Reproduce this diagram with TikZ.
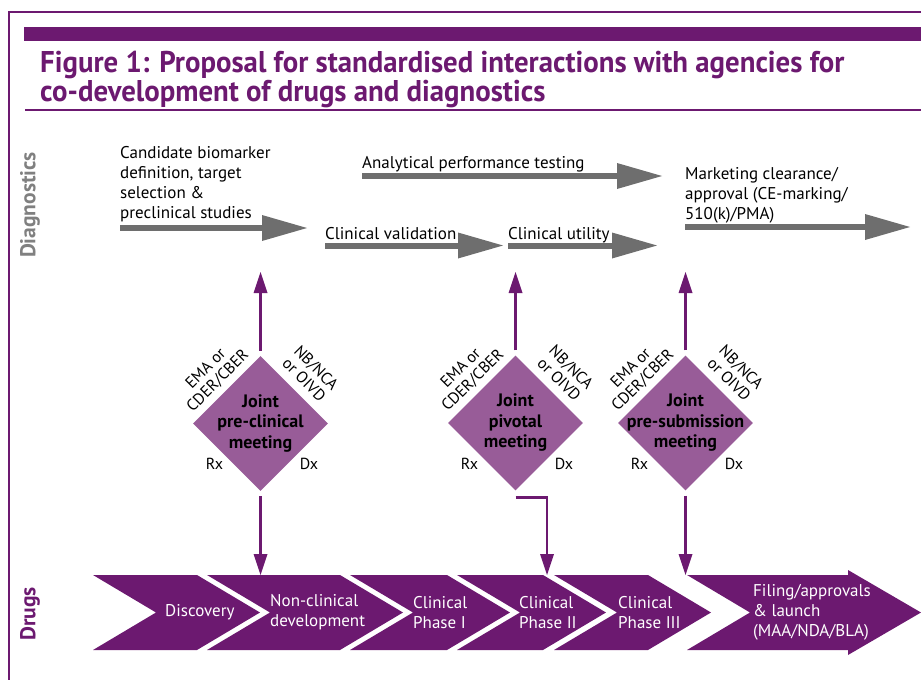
\documentclass[tikz,border=0pt]{standalone}
\usepackage{fontspec}
\setmainfont{PT Sans}
\newfontfamily\headfont[FakeStretch=0.96]{PT Sans}
\usetikzlibrary{arrows.meta,calc,shapes.geometric}
\definecolor{plum}{RGB}{108,25,112}
\definecolor{mauve}{RGB}{152,92,152}
\definecolor{slate}{RGB}{110,110,110}
\definecolor{lanegray}{RGB}{128,128,128}
\newcommand{\setfs}[2]{\fontsize{#1}{#2}\selectfont}
% one step of the drug pipeline: top-left x, top-right x
\newcommand{\chevron}[2]{%
  \fill[plum] (#1,575) -- (#2,575) -- ({#2+63},612.5) -- (#2,650)
    -- (#1,650) -- ({#1+63},612.5) -- cycle;}
\begin{document}
\begin{tikzpicture}[x=1pt,y=-1pt,
  fat/.style={draw=slate, line width=6pt,
    -{Triangle[length=45pt,width=26pt,line width=0pt]}},
  link/.style={draw=plum, line width=2.8pt,
    -{Triangle[length=21pt,width=14pt,line width=0pt]}},
  meet/.style={shape=diamond, fill=mauve, minimum width=135pt,
    minimum height=135pt, inner sep=0pt},
  meettxt/.style={font=\bfseries\setfs{18}{20.5}, align=center, text=black, inner sep=0pt},
  edgelab/.style={font=\setfs{16}{17}, align=center, inner sep=1pt},
  sidelab/.style={font=\setfs{16}{17}, inner sep=0pt},
  diagtxt/.style={font=\setfs{17}{20}, align=left, inner sep=0pt, anchor=base west},
  steptxt/.style={font=\setfs{17}{20}, align=left, inner sep=0pt, anchor=west, text=white},
  lanelab/.style={font=\bfseries\setfs{21.5}{22}, rotate=90, inner sep=0pt}
]
\path[use as bounding box] (0,0) rectangle (921,680);

% frame and heading
\draw[plum, line width=2pt] (9,680) -- (9,12) -- (921,12);
\fill[plum] (24,27) rectangle (921,41);
\draw[plum, line width=1.6pt] (25,110) -- (921,110);
\node[font=\headfont\bfseries\setfs{30}{27.5}, text=plum, align=left,
  anchor=base west, inner sep=0pt] (title) at (40,101)
  {Figure 1: Proposal for standardised interactions with agencies for\\co-development of drugs and diagnostics};

% lane labels
\node[lanelab, text=lanegray] (lanedx) at (30,205) {Diagnostics};
\node[lanelab, text=plum] (lanerx) at (30,614) {Drugs};

% diagnostics track (anchored on the baseline of the last line)
\node[diagtxt] (dx1) at (120,218) {Candidate biomarker\\definition, target\\selection \&\\preclinical studies};
\node[diagtxt] (dx2) at (362,168) {Analytical performance testing};
\node[diagtxt] (dx3) at (325,239) {Clinical validation};
\node[diagtxt] (dx4) at (508,239) {Clinical utility};
\node[diagtxt] (dx5) at (685,219) {Marketing clearance/\\approval (CE-marking/\\510(k)/PMA)};

\coordinate (g1a) at (120,228);   \coordinate (g1b) at (307,228);
\coordinate (g2a) at (362,176);   \coordinate (g2b) at (662,176);
\coordinate (g3a) at (325,245.5); \coordinate (g3b) at (503,245.5);
\coordinate (g4a) at (508,245.5); \coordinate (g4b) at (657,245.5);
\coordinate (g5a) at (685,227);   \coordinate (g5b) at (910,227);
\draw[fat] (g1a) -- (g1b);
\draw[fat] (g2a) -- (g2b);
\draw[fat] (g3a) -- (g3b);
\draw[fat] (g4a) -- (g4b);
\draw[fat] (g5a) -- (g5b);

% drug pipeline
\chevron{93}{197}
\chevron{207}{340}
\chevron{350}{447}
\chevron{457}{543}
\chevron{554}{648}
\fill[plum] (687,575) -- (848,575) -- (848,570) -- (921,612.5) -- (848,655)
  -- (848,650) -- (687,650) -- (750,612.5) -- cycle;

\node[steptxt] (rx1) at (165,612.5) {Discovery};
\node[steptxt] (rx2) at (270,612.5) {Non-clinical\\development};
\node[steptxt] (rx3) at (413,612.5) {Clinical\\Phase I};
\node[steptxt] (rx4) at (519,612.5) {Clinical\\Phase II};
\node[steptxt] (rx5) at (618,612.5) {Clinical\\Phase III};
\node[steptxt] (rx6) at (753,612) {Filing/approvals\\\& launch\\(MAA/NDA/BLA)};

% joint meetings
\node[meet] (m1) at (260.5,423.5) {};
\node[meet] (m2) at (515.5,423) {};
\node[meet] (m3) at (685.5,423) {};
\node[meettxt] (m1t) at (m1) {Joint\\pre-clinical\\meeting};
\node[meettxt] (m2t) at (m2) {Joint\\pivotal\\meeting};
\node[meettxt] (m3t) at (m3) {Joint\\pre-submission\\meeting};

\foreach \m in {m1,m2,m3}{
  \node[edgelab, rotate=45, anchor=south] (\m a) at ($(\m.north)!0.5!(\m.west)+(-3,-3)$) {EMA or\\CDER/CBER};
  \node[edgelab, rotate=-45, anchor=south] (\m b) at ($(\m.north)!0.5!(\m.east)+(5,-5)$) {NB/NCA\\or OIVD};
  \node[sidelab] (\m r) at ($(\m)+(-46,40.5)$) {Rx};
  \node[sidelab] (\m d) at ($(\m)+(48.5,40.5)$) {Dx};
}

% links from the meetings to both tracks
\coordinate (u1) at (260.5,272); \coordinate (u2) at (515.5,272); \coordinate (u3) at (685.5,272);
\coordinate (v1) at (260.5,575); \coordinate (v2) at (547,575);   \coordinate (v3) at (685.5,575);
\draw[link, shorten <=5pt] (m1.north) -- (u1);
\draw[link, shorten <=5pt] (m2.north) -- (u2);
\draw[link, shorten <=5pt] (m3.north) -- (u3);
\draw[link, shorten <=5pt] (m1.south) -- (v1);
\draw[link] ($(m2.south)+(0,6.5)$) -| (v2);
\draw[link, shorten <=5pt] (m3.south) -- (v3);
\end{tikzpicture}
\end{document}
